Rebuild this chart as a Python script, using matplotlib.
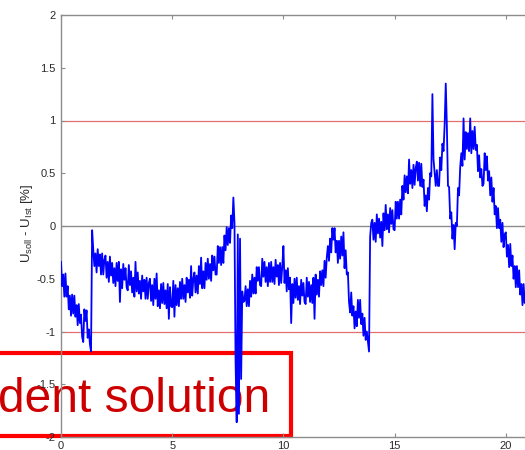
import matplotlib
matplotlib.use("Agg")
import matplotlib.pyplot as plt
import numpy as np
from matplotlib.patches import Rectangle

plt.rcParams["font.family"] = ["Liberation Sans", "DejaVu Sans"]
plt.rcParams["axes.unicode_minus"] = False

# deviation U_soll - U_Ist in %, sampled every 0.05 starting at t = 0
T_START = 0.0
T_STEP = 0.05
u_diff = [
    -0.34, -0.57, -0.46, -0.67, -0.45, -0.67, -0.57, -0.79, -0.66, -0.85, -0.65, -0.83, -0.66, -0.86, -0.75, -0.94, -0.74, -0.92, -0.84, -1.05,
    -1.10, -0.79, -0.90, -0.80, -1.06, -0.98, -1.12, -1.19, -0.04, -0.22, -0.38, -0.26, -0.44, -0.22, -0.38, -0.27, -0.46, -0.26, -0.46, -0.32,
    -0.28, -0.49, -0.34, -0.53, -0.29, -0.47, -0.35, -0.54, -0.40, -0.57, -0.35, -0.52, -0.34, -0.72, -0.41, -0.59, -0.36, -0.51, -0.40, -0.58,
    -0.61, -0.37, -0.56, -0.43, -0.63, -0.49, -0.67, -0.34, -0.62, -0.44, -0.64, -0.52, -0.69, -0.47, -0.62, -0.51, -0.69, -0.49, -0.69, -0.54,
    -0.50, -0.71, -0.56, -0.75, -0.50, -0.69, -0.45, -0.76, -0.61, -0.78, -0.55, -0.73, -0.54, -0.74, -0.61, -0.78, -0.55, -0.88, -0.58, -0.76,
    -0.77, -0.52, -0.86, -0.56, -0.75, -0.59, -0.76, -0.53, -0.69, -0.50, -0.69, -0.56, -0.72, -0.49, -0.63, -0.51, -0.68, -0.38, -0.66, -0.50,
    -0.44, -0.63, -0.47, -0.64, -0.38, -0.55, -0.30, -0.59, -0.43, -0.59, -0.35, -0.51, -0.31, -0.50, -0.36, -0.52, -0.28, -0.42, -0.29, -0.46,
    -0.46, -0.19, -0.35, -0.20, -0.37, -0.20, -0.35, -0.09, -0.23, -0.01, -0.18, -0.02, -0.16, 0.10, -0.02, 0.27, 0.03, -1.30, -1.86, -0.08,
    -1.78, -0.12, -1.45, -0.62, -0.72, -0.71, -0.57, -0.76, -0.60, -0.76, -0.52, -0.67, -0.46, -0.64, -0.49, -0.64, -0.39, -0.52, -0.39, -0.56,
    -0.57, -0.31, -0.48, -0.34, -0.53, -0.39, -0.57, -0.35, -0.53, -0.34, -0.53, -0.39, -0.55, -0.32, -0.48, -0.37, -0.56, -0.35, -0.54, -0.38,
    -0.19, -0.54, -0.42, -0.62, -0.40, -0.60, -0.49, -0.92, -0.55, -0.73, -0.50, -0.68, -0.49, -0.70, -0.57, -0.74, -0.51, -0.66, -0.54, -0.72,
    -0.74, -0.49, -0.67, -0.53, -0.72, -0.56, -0.73, -0.49, -0.88, -0.46, -0.65, -0.51, -0.67, -0.43, -0.56, -0.42, -0.57, -0.33, -0.49, -0.30,
    -0.19, -0.33, -0.12, -0.25, -0.02, -0.13, -0.02, -0.25, -0.14, -0.35, -0.14, -0.31, -0.10, -0.28, -0.06, -0.40, -0.23, -0.46, -0.44, -0.72,
    -0.82, -0.63, -0.85, -0.76, -0.97, -0.81, -0.95, -0.70, -0.87, -0.70, -0.93, -0.83, -1.04, -0.87, -1.08, -1.00, -1.10, -1.19, -0.10, 0.03,
    0.06, -0.13, 0.03, -0.15, 0.11, -0.07, 0.07, -0.11, 0.04, -0.19, 0.12, -0.04, 0.20, -0.03, 0.11, -0.06, 0.17, 0.02, 0.15, -0.03,
    -0.04, 0.23, 0.07, 0.23, 0.07, 0.25, 0.11, 0.38, 0.25, 0.48, 0.32, 0.47, 0.31, 0.63, 0.40, 0.53, 0.36, 0.58, 0.39, 0.55,
    0.61, 0.43, 0.60, 0.38, 0.59, 0.37, 0.44, 0.19, 0.29, 0.14, 0.36, 0.25, 0.50, 0.47, 1.25, 0.63, 0.51, 0.38, 0.53, 0.38,
    0.38, 0.65, 0.53, 0.78, 0.71, 0.96, 1.35, 0.95, 0.38, 0.37, 0.07, 0.13, -0.12, 0.01, -0.22, 0.03, 0.00, 0.36, 0.29, 0.56,
    0.69, 0.57, 1.02, 0.63, 0.89, 0.73, 0.88, 0.71, 1.02, 0.69, 0.90, 0.73, 0.94, 0.72, 0.77, 0.52, 0.67, 0.46, 0.54, 0.38,
    0.40, 0.69, 0.53, 0.66, 0.43, 0.52, 0.29, 0.46, 0.23, 0.36, 0.11, 0.19, -0.02, 0.17, -0.02, 0.06, -0.15, 0.03, -0.20, -0.08,
    -0.06, -0.29, -0.18, -0.39, -0.17, -0.38, -0.28, -0.50, -0.38, -0.58, -0.38, -0.58, -0.42, -0.65, -0.55, -0.75, -0.55, -0.73, -0.64, -0.85, -0.72,
]

LIMITS = [-1.0, 1.0]
X_TICKS = [0, 5, 10, 15, 20, 25]
Y_TICKS = [-2, -1.5, -1, -0.5, 0, 0.5, 1, 1.5, 2]
Y_TICK_LABELS = ["-2", "-1.5", "-1", "-0.5", "0", "0.5", "1", "1.5", "2"]

t = T_START + T_STEP * np.arange(len(u_diff))

fig = plt.figure(figsize=(5.25, 4.5), dpi=100)
fig.patch.set_facecolor("white")

# axes run past the right edge of the canvas
ax = fig.add_axes([61 / 525, 13 / 450, 556 / 525, 422 / 450])
ax.patch.set_visible(False)

ax.axhline(0, color="#8c8c8c", lw=1.0, zorder=1)
for lim in LIMITS:
    ax.axhline(lim, color="#e07070", lw=0.9, zorder=1)
ax.plot(t, u_diff, color="#0000ff", lw=1.3, zorder=3)

ax.set_xlim(0, 25)
ax.set_ylim(-2, 2)
ax.set_xticks(X_TICKS)
ax.set_xticklabels([str(v) for v in X_TICKS])
ax.set_yticks(Y_TICKS)
ax.set_yticklabels(Y_TICK_LABELS)

for side in ["left", "right", "top", "bottom"]:
    ax.spines[side].set_color("#8c8c8c")
    ax.spines[side].set_linewidth(1.0)
ax.tick_params(direction="in", length=3, width=0.8, color="#8c8c8c",
               labelsize=8, labelcolor="#2a2a2a", top=True, right=True)
ax.tick_params(axis="x", pad=3)
ax.tick_params(axis="y", pad=4)

fig.text(27 / 525, 1 - 223 / 450,
         r"U$_\mathregular{soll}$ - U$_\mathregular{Ist}$ [%]",
         rotation=90, ha="center", va="center", fontsize=9.5, color="#2a2a2a")

# red label box sitting underneath the signal
fig.add_artist(Rectangle((-20 / 525, (450 - 435.5) / 450),
                         (290.5 + 20) / 525, 82.5 / 450,
                         transform=fig.transFigure, fill=False,
                         edgecolor="#ff0000", lw=3.0, zorder=-1))
fig.text(-2 / 525, (450 - 412) / 450, "dent solution", color="#cc0000",
         fontsize=34.5, ha="left", va="baseline", zorder=-1)

fig.savefig("out.png", dpi=100, facecolor="white")
